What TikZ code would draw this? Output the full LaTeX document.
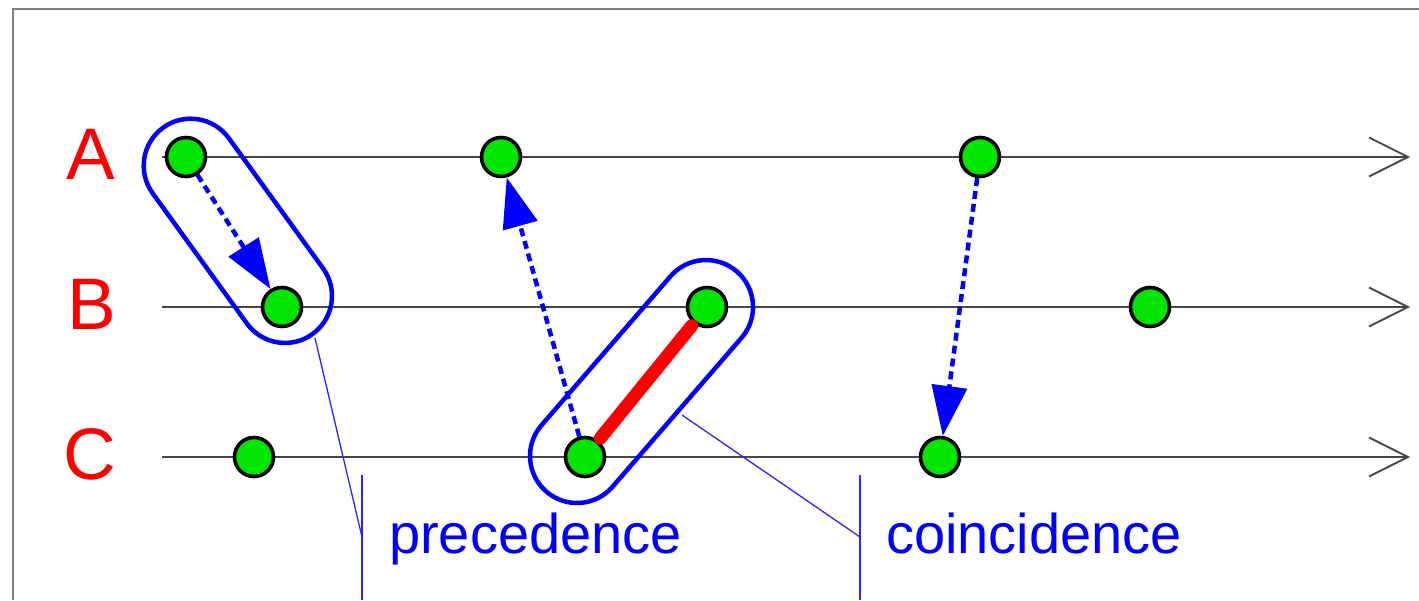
\documentclass[tikz,border=0pt]{standalone}
\usepackage{fontspec}
\setmainfont{Liberation Sans}
\usepackage{tikz}
\usetikzlibrary{arrows.meta}
\definecolor{verd}{RGB}{0,230,0}
\definecolor{gris}{RGB}{70,70,70}

\begin{document}
\begin{tikzpicture}[x=1pt, y=1pt,
    eix/.style={gris, line width=1.8pt, -{Straight Barb[length=39pt,width=39pt]}},
    punt/.style={circle, draw=black, line width=3.6pt, fill=verd, minimum size=39pt, inner sep=0pt},
    lletra/.style={red, anchor=base, inner sep=0pt, font=\fontsize{73}{80}\selectfont},
    capsula/.style={blue, line width=4.5pt},
    fletxa/.style={blue, line width=4.5pt, dash pattern=on 8pt off 5pt, -{Triangle[length=50pt,width=35pt]}},
    avis/.style={blue!85, line width=1.3pt},
    nom/.style={blue, anchor=base west, inner sep=0pt, font=\fontsize{56}{60}\selectfont}]

\useasboundingbox (0,0) rectangle (1419,600);

% Marc
\draw[gray, line width=2pt] (12.7,0) -- (12.7,591) -- (1419,591);

% Linies de temps
\node[lletra] (lA) at (91,420) {A};
\node[lletra] (lB) at (92,270) {B};
\node[lletra] (lC) at (90,120) {C};
\draw[eix] (162,443) -- (1410,443);
\draw[eix] (162,293) -- (1410,293);
\draw[eix] (162,143) -- (1410,143);

% Capsules
\begin{scope}[shift={(190.7,434.3)}, rotate=-54.1]
  \draw[capsula] (0,47) -- (160.8,47) arc (90:-90:47) -- (0,-47) arc (270:90:47) -- cycle;
\end{scope}
\begin{scope}[shift={(577,144)}, rotate=49.1]
  \draw[capsula] (0,47) -- (197.1,47) arc (90:-90:47) -- (0,-47) arc (270:90:47) -- cycle;
\end{scope}

% Punts
\node[punt] (A1) at (186,443) {};
\node[punt] (A2) at (501,443) {};
\node[punt] (A3) at (980,443) {};
\node[punt] (B1) at (282,293) {};
\node[punt] (B2) at (707,293) {};
\node[punt] (B3) at (1150,293) {};
\node[punt] (C1) at (254,143) {};
\node[punt] (C2) at (585,143) {};
\node[punt] (C3) at (940,143) {};

% Fletxes
\draw[fletxa] (A1) -- (B1);
\draw[fletxa] (C2) -- (A2);
\draw[fletxa] (A3) -- (C3);

% Coincidencia
\draw[red, line width=13pt, line cap=round, shorten <=3pt, shorten >=3pt] (C2) -- (B2);

% Etiquetes
\coordinate (p0) at (315,262);
\coordinate (p1) at (362,63);
\coordinate (c0) at (682,185);
\coordinate (c1) at (860,63);
\draw[avis] (p0) -- (p1);
\draw[avis] (362,125) -- (362,0);
\draw[avis] (c0) -- (c1);
\draw[avis] (860,125) -- (860,0);
\node[nom] (prec) at (389,47) {precedence};
\node[nom] (coin) at (886,47) {coincidence};

\end{tikzpicture}
\end{document}
